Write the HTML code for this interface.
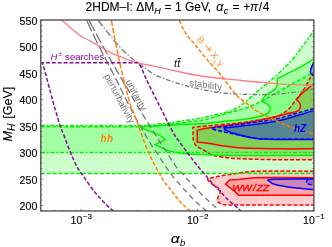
<!DOCTYPE html>
<html><head><meta charset="utf-8"><title>2HDM-I</title>
<style>html,body{margin:0;padding:0;background:#fff;}body{width:332px;height:247px;position:relative;overflow:hidden;font-family:"Liberation Sans",sans-serif;}</style>
</head><body>
<svg width="332" height="247" viewBox="0 0 332 247" style="position:absolute;left:0;top:0;will-change:transform;opacity:0.999">
<defs><clipPath id="c"><rect x="40.8" y="20.0" width="273.09999999999997" height="190.95"/></clipPath></defs>
<g clip-path="url(#c)" fill="none" stroke-width="1.5">
<!-- red fills -->
<path d="M313.90,72.00 C313.47,72.63 312.95,72.93 311.30,75.80 C309.65,78.67 306.55,85.22 304.00,89.20 C301.45,93.18 298.63,96.32 296.00,99.70 C293.37,103.08 291.53,106.67 288.20,109.50 C284.87,112.33 281.67,114.82 276.00,116.70 C270.33,118.58 260.87,119.72 254.20,120.80 C247.53,121.88 240.70,122.63 236.00,123.20 C231.30,123.77 231.00,123.73 226.00,124.20 C221.00,124.67 211.00,125.55 206.00,126.00 C201.00,126.45 198.18,126.67 196.00,126.90 C193.82,127.13 193.42,127.32 192.90,127.40 L193.2,140 C193.67,140.95 194.32,144.03 196.00,145.70 C197.68,147.37 200.67,148.48 203.30,150.00 C205.93,151.52 208.97,153.68 211.80,154.80 C214.63,155.92 216.27,156.08 220.30,156.70 C224.33,157.32 226.72,158.00 236.00,158.50 C245.28,159.00 263.02,159.50 276.00,159.70 C288.98,159.90 307.58,159.70 313.90,159.70 Z" fill="#ff0000" fill-opacity="0.2"/>
<path d="M313.90,83.50 C312.65,84.55 308.80,87.72 306.40,89.80 C304.00,91.88 301.15,94.37 299.50,96.00 C297.85,97.63 297.00,99.00 296.50,99.60 C297.02,100.17 298.95,101.85 299.60,103.00 C300.25,104.15 300.57,105.27 300.40,106.50 C300.23,107.73 299.67,109.45 298.60,110.40 C297.53,111.35 295.73,111.72 294.00,112.20 C292.27,112.68 291.20,112.57 288.20,113.30 C285.20,114.03 281.67,115.25 276.00,116.60 C270.33,117.95 260.87,120.13 254.20,121.40 C247.53,122.67 240.70,123.52 236.00,124.20 C231.30,124.88 231.00,124.82 226.00,125.50 C221.00,126.18 210.80,127.52 206.00,128.30 C201.20,129.08 198.67,129.88 197.20,130.20 L197.2,142.1 C198.67,142.25 199.53,142.10 206.00,143.00 C212.47,143.90 224.33,146.53 236.00,147.50 C247.67,148.47 263.02,148.58 276.00,148.80 C288.98,149.02 307.58,148.80 313.90,148.80 Z" fill="#ff0000" fill-opacity="0.2"/>
<path d="M313.90,171.20 C307.58,171.17 285.95,170.98 276.00,171.00 C266.05,171.02 260.20,171.00 254.20,171.30 C248.20,171.60 243.97,172.28 240.00,172.80 C236.03,173.32 234.03,173.82 230.40,174.40 C226.77,174.98 221.95,175.55 218.20,176.30 C214.45,177.05 209.62,178.47 207.90,178.90 L207.9,180.2 C208.62,180.87 210.27,182.73 212.20,184.20 C214.13,185.67 218.20,187.58 219.50,189.00 C220.80,190.42 220.22,191.48 220.00,192.70 C219.78,193.92 218.60,194.88 218.20,196.30 C217.80,197.72 217.25,200.00 217.60,201.20 C217.95,202.40 219.03,202.90 220.30,203.50 C221.57,204.10 222.58,204.53 225.20,204.80 C227.82,205.07 221.22,205.05 236.00,205.10 C250.78,205.15 300.92,205.10 313.90,205.10 Z" fill="#ff0000" fill-opacity="0.2"/>
<path d="M313.90,177.8 L276,177.4 L254,177.8 L240,179.2 L229.6,179.9 L225.5,184.2 L231.6,189 L236,192.6 L238.6,195.2 L313.90,195.2 Z" fill="#ff0000" fill-opacity="0.2"/>
<!-- green fills -->
<path d="M40.80,126.60 C58.33,126.60 126.13,126.80 146.00,126.60 C165.87,126.40 155.67,125.82 160.00,125.40 C164.33,124.98 167.00,124.72 172.00,124.10 C177.00,123.48 185.67,122.27 190.00,121.70 C194.33,121.13 195.33,121.08 198.00,120.70 C200.67,120.32 202.63,120.20 206.00,119.40 C209.37,118.60 214.15,117.10 218.20,115.90 C222.25,114.70 225.67,113.52 230.30,112.20 C234.93,110.88 241.00,109.70 246.00,108.00 C251.00,106.30 255.97,104.13 260.30,102.00 C264.63,99.87 268.17,97.37 272.00,95.20 C275.83,93.03 279.13,91.32 283.30,89.00 C287.47,86.68 291.90,84.07 297.00,81.30 C302.10,78.53 311.08,73.88 313.90,72.40 L313.90,173.60 L40.80,173.60 Z" fill="#00ff00" fill-opacity="0.2"/>
<path d="M40.80,125.50 C57.00,125.50 118.80,125.72 138.00,125.50 C157.20,125.28 150.73,124.65 156.00,124.20 C161.27,123.75 164.93,123.38 169.60,122.80 C174.27,122.22 179.60,121.33 184.00,120.70 C188.40,120.07 192.33,119.62 196.00,119.00 C199.67,118.38 202.30,117.83 206.00,117.00 C209.70,116.17 214.15,115.00 218.20,114.00 C222.25,113.00 226.87,112.20 230.30,111.00 C233.73,109.80 236.18,108.42 238.80,106.80 C241.42,105.18 242.62,104.10 246.00,101.30 C249.38,98.50 254.10,94.25 259.10,90.00 C264.10,85.75 270.55,80.80 276.00,75.80 C281.45,70.80 287.30,65.05 291.80,60.00 C296.30,54.95 299.32,50.33 303.00,45.50 C306.68,40.67 312.08,33.42 313.90,31.00 L313.90,152.50 L40.80,152.50 Z" fill="#00ff00" fill-opacity="0.2"/>
<path d="M140.50,126.80 C141.42,126.72 143.42,126.48 146.00,126.30 C148.58,126.12 152.67,125.88 156.00,125.70 C159.33,125.52 159.33,125.48 166.00,125.20 C172.67,124.92 189.33,124.30 196.00,124.00 C202.67,123.70 201.30,123.85 206.00,123.40 C210.70,122.95 219.20,121.82 224.20,121.30 C229.20,120.78 232.37,120.68 236.00,120.30 C239.63,119.92 242.97,119.43 246.00,119.00 C249.03,118.57 251.53,118.25 254.20,117.70 C256.87,117.15 259.90,116.38 262.00,115.70 C264.10,115.02 265.50,114.38 266.80,113.60 C268.10,112.82 269.20,111.90 269.80,111.00 C270.40,110.10 270.65,109.20 270.40,108.20 C270.15,107.20 269.28,105.95 268.30,105.00 C267.32,104.05 265.62,103.15 264.50,102.50 C263.38,101.85 262.08,101.33 261.60,101.10 C262.00,100.48 263.10,98.53 264.00,97.40 C264.90,96.27 265.83,95.23 267.00,94.30 C268.17,93.37 269.75,92.58 271.00,91.80 C272.25,91.02 273.57,90.43 274.50,89.60 C275.43,88.77 276.15,87.65 276.60,86.80 C277.05,85.95 277.10,84.88 277.20,84.50 L277.20,84.00 L277.20,78.60 C278.72,77.85 283.37,75.57 286.30,74.10 C289.23,72.63 291.82,71.35 294.80,69.80 C297.78,68.25 301.67,66.20 304.20,64.80 C306.73,63.40 308.38,62.43 310.00,61.40 C311.62,60.37 313.25,59.07 313.90,58.60 L313.90,155.30 C300.92,155.33 255.65,155.67 236.00,155.50 C216.35,155.33 205.33,154.68 196.00,154.30 C186.67,153.92 184.67,153.82 180.00,153.20 C175.33,152.58 170.00,151.03 168.00,150.60 L154.9,144.7 L165.4,139.5  C164.50,138.87 162.40,136.98 160.00,135.70 C157.60,134.42 153.50,132.85 151.00,131.80 C148.50,130.75 146.75,130.23 145.00,129.40 C143.25,128.57 141.25,127.23 140.50,126.80 Z" fill="#00ff00" fill-opacity="0.2"/>
<!-- blue fills -->
<path d="M313.90,108.40 C312.25,108.87 307.28,110.27 304.00,111.20 C300.72,112.13 298.87,112.70 294.20,114.00 C289.53,115.30 284.03,117.42 276.00,119.00 C267.97,120.58 252.67,122.52 246.00,123.50 C239.33,124.48 241.75,124.15 236.00,124.90 C230.25,125.65 215.58,127.48 211.50,128.00 L211.5,128.6 C212.62,128.97 215.07,130.03 218.20,130.80 C221.33,131.57 225.67,132.20 230.30,133.20 C234.93,134.20 242.05,135.97 246.00,136.80 C249.95,137.63 251.33,137.83 254.00,138.20 C256.67,138.57 258.33,138.83 262.00,139.00 C265.67,139.17 267.35,139.17 276.00,139.20 C284.65,139.23 307.58,139.20 313.90,139.20 Z" fill="#0000ff" fill-opacity="0.2"/>
<path d="M313.90,110.40 C312.25,110.93 307.28,112.58 304.00,113.60 C300.72,114.62 298.87,115.22 294.20,116.50 C289.53,117.78 284.03,119.78 276.00,121.30 C267.97,122.82 252.67,124.68 246.00,125.60 C239.33,126.52 239.60,126.40 236.00,126.80 C232.40,127.20 226.33,127.80 224.40,128.00 L224.8,129.8 C225.72,130.20 226.77,131.10 230.30,132.20 C233.83,133.30 242.05,135.43 246.00,136.40 C249.95,137.37 251.33,137.57 254.00,138.00 C256.67,138.43 258.33,138.75 262.00,139.00 C265.67,139.25 267.35,139.40 276.00,139.50 C284.65,139.60 307.58,139.58 313.90,139.60 Z" fill="#0000ff" fill-opacity="0.2"/>
<path d="M313.90,178.8 L276.9,179.3 L269,179.6 L268,180.3 C268.92,180.92 270.62,182.97 273.50,184.00 C276.38,185.03 280.52,185.73 285.30,186.50 C290.08,187.27 297.43,188.08 302.20,188.60 C306.97,189.12 311.95,189.43 313.90,189.60 Z" fill="#0000ff" fill-opacity="0.2"/>
<path d="M313.90,178.9 L307.8,179.1 L306.5,181.7 L307.4,183.9 L313.90,185.3 Z" fill="#0000ff" fill-opacity="0.2"/>
<!-- red lines -->
<path d="M313.90,72.00 C313.47,72.63 312.95,72.93 311.30,75.80 C309.65,78.67 306.55,85.22 304.00,89.20 C301.45,93.18 298.63,96.32 296.00,99.70 C293.37,103.08 291.53,106.67 288.20,109.50 C284.87,112.33 281.67,114.82 276.00,116.70 C270.33,118.58 260.87,119.72 254.20,120.80 C247.53,121.88 240.70,122.63 236.00,123.20 C231.30,123.77 231.00,123.73 226.00,124.20 C221.00,124.67 211.00,125.55 206.00,126.00 C201.00,126.45 198.18,126.67 196.00,126.90 C193.82,127.13 193.42,127.32 192.90,127.40 L193.2,140 C193.67,140.95 194.32,144.03 196.00,145.70 C197.68,147.37 200.67,148.48 203.30,150.00 C205.93,151.52 208.97,153.68 211.80,154.80 C214.63,155.92 216.27,156.08 220.30,156.70 C224.33,157.32 226.72,158.00 236.00,158.50 C245.28,159.00 263.02,159.50 276.00,159.70 C288.98,159.90 307.58,159.70 313.90,159.70" stroke="#ff0000" stroke-dasharray="4 1.9"/>
<path d="M313.90,83.50 C312.65,84.55 308.80,87.72 306.40,89.80 C304.00,91.88 301.15,94.37 299.50,96.00 C297.85,97.63 297.00,99.00 296.50,99.60 C297.02,100.17 298.95,101.85 299.60,103.00 C300.25,104.15 300.57,105.27 300.40,106.50 C300.23,107.73 299.67,109.45 298.60,110.40 C297.53,111.35 295.73,111.72 294.00,112.20 C292.27,112.68 291.20,112.57 288.20,113.30 C285.20,114.03 281.67,115.25 276.00,116.60 C270.33,117.95 260.87,120.13 254.20,121.40 C247.53,122.67 240.70,123.52 236.00,124.20 C231.30,124.88 231.00,124.82 226.00,125.50 C221.00,126.18 210.80,127.52 206.00,128.30 C201.20,129.08 198.67,129.88 197.20,130.20 L197.2,142.1 C198.67,142.25 199.53,142.10 206.00,143.00 C212.47,143.90 224.33,146.53 236.00,147.50 C247.67,148.47 263.02,148.58 276.00,148.80 C288.98,149.02 307.58,148.80 313.90,148.80" stroke="#ff0000"/>
<path d="M313.90,171.20 C307.58,171.17 285.95,170.98 276.00,171.00 C266.05,171.02 260.20,171.00 254.20,171.30 C248.20,171.60 243.97,172.28 240.00,172.80 C236.03,173.32 234.03,173.82 230.40,174.40 C226.77,174.98 221.95,175.55 218.20,176.30 C214.45,177.05 209.62,178.47 207.90,178.90 L207.9,180.2 C208.62,180.87 210.27,182.73 212.20,184.20 C214.13,185.67 218.20,187.58 219.50,189.00 C220.80,190.42 220.22,191.48 220.00,192.70 C219.78,193.92 218.60,194.88 218.20,196.30 C217.80,197.72 217.25,200.00 217.60,201.20 C217.95,202.40 219.03,202.90 220.30,203.50 C221.57,204.10 222.58,204.53 225.20,204.80 C227.82,205.07 221.22,205.05 236.00,205.10 C250.78,205.15 300.92,205.10 313.90,205.10" stroke="#ff0000" stroke-dasharray="4 1.9"/>
<path d="M313.90,177.8 L276,177.4 L254,177.8 L240,179.2 L229.6,179.9 L225.5,184.2 L231.6,189 L236,192.6 L238.6,195.2 L313.90,195.2" stroke="#ff0000"/>
<!-- green lines -->
<path d="M40.80,126.60 C58.33,126.60 126.13,126.80 146.00,126.60 C165.87,126.40 155.67,125.82 160.00,125.40 C164.33,124.98 167.00,124.72 172.00,124.10 C177.00,123.48 185.67,122.27 190.00,121.70 C194.33,121.13 195.33,121.08 198.00,120.70 C200.67,120.32 202.63,120.20 206.00,119.40 C209.37,118.60 214.15,117.10 218.20,115.90 C222.25,114.70 225.67,113.52 230.30,112.20 C234.93,110.88 241.00,109.70 246.00,108.00 C251.00,106.30 255.97,104.13 260.30,102.00 C264.63,99.87 268.17,97.37 272.00,95.20 C275.83,93.03 279.13,91.32 283.30,89.00 C287.47,86.68 291.90,84.07 297.00,81.30 C302.10,78.53 311.08,73.88 313.90,72.40" stroke="#00f000" stroke-dasharray="4 1.9"/>
<path d="M40.8,173.60 H313.9" stroke="#00f000" stroke-dasharray="4 1.9"/>
<path d="M40.80,125.50 C57.00,125.50 118.80,125.72 138.00,125.50 C157.20,125.28 150.73,124.65 156.00,124.20 C161.27,123.75 164.93,123.38 169.60,122.80 C174.27,122.22 179.60,121.33 184.00,120.70 C188.40,120.07 192.33,119.62 196.00,119.00 C199.67,118.38 202.30,117.83 206.00,117.00 C209.70,116.17 214.15,115.00 218.20,114.00 C222.25,113.00 226.87,112.20 230.30,111.00 C233.73,109.80 236.18,108.42 238.80,106.80 C241.42,105.18 242.62,104.10 246.00,101.30 C249.38,98.50 254.10,94.25 259.10,90.00 C264.10,85.75 270.55,80.80 276.00,75.80 C281.45,70.80 287.30,65.05 291.80,60.00 C296.30,54.95 299.32,50.33 303.00,45.50 C306.68,40.67 312.08,33.42 313.90,31.00" stroke="#00f000" stroke-dasharray="4.1 1.8 1.9 1.9"/>
<path d="M40.8,152.50 H313.9" stroke="#00f000" stroke-dasharray="4.1 1.8 1.9 1.9"/>
<path d="M140.50,126.80 C141.42,126.72 143.42,126.48 146.00,126.30 C148.58,126.12 152.67,125.88 156.00,125.70 C159.33,125.52 159.33,125.48 166.00,125.20 C172.67,124.92 189.33,124.30 196.00,124.00 C202.67,123.70 201.30,123.85 206.00,123.40 C210.70,122.95 219.20,121.82 224.20,121.30 C229.20,120.78 232.37,120.68 236.00,120.30 C239.63,119.92 242.97,119.43 246.00,119.00 C249.03,118.57 251.53,118.25 254.20,117.70 C256.87,117.15 259.90,116.38 262.00,115.70 C264.10,115.02 265.50,114.38 266.80,113.60 C268.10,112.82 269.20,111.90 269.80,111.00 C270.40,110.10 270.65,109.20 270.40,108.20 C270.15,107.20 269.28,105.95 268.30,105.00 C267.32,104.05 265.62,103.15 264.50,102.50 C263.38,101.85 262.08,101.33 261.60,101.10 C262.00,100.48 263.10,98.53 264.00,97.40 C264.90,96.27 265.83,95.23 267.00,94.30 C268.17,93.37 269.75,92.58 271.00,91.80 C272.25,91.02 273.57,90.43 274.50,89.60 C275.43,88.77 276.15,87.65 276.60,86.80 C277.05,85.95 277.10,84.88 277.20,84.50 L277.20,84.00 L277.20,78.60 C278.72,77.85 283.37,75.57 286.30,74.10 C289.23,72.63 291.82,71.35 294.80,69.80 C297.78,68.25 301.67,66.20 304.20,64.80 C306.73,63.40 308.38,62.43 310.00,61.40 C311.62,60.37 313.25,59.07 313.90,58.60" stroke="#00f000"/>
<path d="M313.90,155.30 C300.92,155.33 255.65,155.67 236.00,155.50 C216.35,155.33 205.33,154.68 196.00,154.30 C186.67,153.92 184.67,153.82 180.00,153.20 C175.33,152.58 170.00,151.03 168.00,150.60 L154.9,144.7 L165.4,139.5  C164.50,138.87 162.40,136.98 160.00,135.70 C157.60,134.42 153.50,132.85 151.00,131.80 C148.50,130.75 146.75,130.23 145.00,129.40 C143.25,128.57 141.25,127.23 140.50,126.80" stroke="#00f000"/>
<!-- blue lines -->
<path d="M313.90,108.40 C312.25,108.87 307.28,110.27 304.00,111.20 C300.72,112.13 298.87,112.70 294.20,114.00 C289.53,115.30 284.03,117.42 276.00,119.00 C267.97,120.58 252.67,122.52 246.00,123.50 C239.33,124.48 241.75,124.15 236.00,124.90 C230.25,125.65 215.58,127.48 211.50,128.00 L211.5,128.6 C212.62,128.97 215.07,130.03 218.20,130.80 C221.33,131.57 225.67,132.20 230.30,133.20 C234.93,134.20 242.05,135.97 246.00,136.80 C249.95,137.63 251.33,137.83 254.00,138.20 C256.67,138.57 258.33,138.83 262.00,139.00 C265.67,139.17 267.35,139.17 276.00,139.20 C284.65,139.23 307.58,139.20 313.90,139.20" stroke="#0000ff" stroke-dasharray="4 1.9"/>
<path d="M313.90,110.40 C312.25,110.93 307.28,112.58 304.00,113.60 C300.72,114.62 298.87,115.22 294.20,116.50 C289.53,117.78 284.03,119.78 276.00,121.30 C267.97,122.82 252.67,124.68 246.00,125.60 C239.33,126.52 239.60,126.40 236.00,126.80 C232.40,127.20 226.33,127.80 224.40,128.00 L224.8,129.8 C225.72,130.20 226.77,131.10 230.30,132.20 C233.83,133.30 242.05,135.43 246.00,136.40 C249.95,137.37 251.33,137.57 254.00,138.00 C256.67,138.43 258.33,138.75 262.00,139.00 C265.67,139.25 267.35,139.40 276.00,139.50 C284.65,139.60 307.58,139.58 313.90,139.60" stroke="#0000ff"/>
<path d="M313.90,178.8 L276.9,179.3 L269,179.6 L268,180.3 C268.92,180.92 270.62,182.97 273.50,184.00 C276.38,185.03 280.52,185.73 285.30,186.50 C290.08,187.27 297.43,188.08 302.20,188.60 C306.97,189.12 311.95,189.43 313.90,189.60" stroke="#0000ff"/>
<path d="M313.90,178.9 L307.8,179.1 L306.5,181.7 L307.4,183.9 L313.90,185.3" stroke="#0000ff" stroke-dasharray="4 1.9"/>
<path d="M313.9,62.5 Q311.2,66 310.3,72.3 L312.6,75.2 L313.9,75.4" stroke="#0000ff" fill="#0000ff" fill-opacity="0.3"/>
<!-- other curves -->
<path d="M86.70,20.50 L87.36,21.91 L88.19,23.68 L89.16,25.76 L90.25,28.11 L91.44,30.66 L91.76,31.34 M92.96,33.87 L94.05,36.17 L95.42,39.03 L96.81,41.89 L97.61,43.51 M98.89,46.07 L99.62,47.52 L101.11,50.43 L102.66,53.43 L103.38,54.82 M104.72,57.39 L105.89,59.62 L107.56,62.81 L108.91,65.38 M110.27,67.99 L110.94,69.27 L112.62,72.53 L114.12,75.44 M115.46,78.10 L115.98,79.11 L117.68,82.51 L118.99,85.15 M120.33,87.87 L121.12,89.47 L122.86,92.98 L123.70,94.66 M125.09,97.45 L126.34,99.97 L128.07,103.39 L128.37,103.96 M129.83,106.81 L131.50,110.00 L133.10,113.00 M134.66,115.88 L134.99,116.49 L136.77,119.75 L137.95,121.88 M139.57,124.79 L140.33,126.14 L142.06,129.20 L142.81,130.53 M144.51,133.49 L145.32,134.90 L146.82,137.46 L147.72,139.00 M149.52,141.98 L150.62,143.73 L151.70,145.38 L152.70,146.87 L152.88,147.13 M154.92,150.04 L155.37,150.67 L156.19,151.83 L157.00,153.00 L157.80,154.20 L158.30,154.98 M160.22,158.04 L160.52,158.53 L161.11,159.49 L161.69,160.45 L162.29,161.41 L162.91,162.39 L163.33,163.04 M165.37,166.06 L165.92,166.86 L166.79,168.11 L167.69,169.38 L168.60,170.66 L168.69,170.79 M170.86,173.77 L171.31,174.38 L172.18,175.53 L173.00,176.60 L173.78,177.59 L174.34,178.28 M176.74,181.11 L177.36,181.81 L178.07,182.60 L178.79,183.40 L179.53,184.23 L180.30,185.10 L180.47,185.29 M182.96,188.09 L183.65,188.86 L184.53,189.83 L185.40,190.80 L186.27,191.75 L186.66,192.18 M189.22,194.95 L189.59,195.36 L190.35,196.18 L191.10,196.99 L191.83,197.79 L192.56,198.57 L192.91,198.94 M195.59,201.65 L195.64,201.69 L196.50,202.50 L197.45,203.36 L198.51,204.27 L199.61,205.20 M202.58,207.63 L203.11,208.06 L204.16,208.91 L205.10,209.67 L205.89,210.30 L206.50,210.80" stroke="#767676" stroke-width="1.3"/>
<path d="M89.10,20.50 L89.92,22.04 L90.96,24.00 L92.19,26.31 L93.56,28.91 L94.71,31.06 M96.02,33.54 L96.63,34.68 L98.26,37.72 L99.90,40.76 L101.16,43.07 M102.53,45.57 L103.10,46.60 L104.64,49.37 L106.21,52.16 L107.36,54.20 M108.79,56.72 L109.42,57.82 L111.06,60.69 L112.74,63.61 L113.34,64.66 M114.81,67.20 L116.19,69.59 L117.98,72.66 L119.00,74.43 M120.50,77.01 L121.73,79.12 L123.82,82.67 L124.49,83.81 M126.02,86.42 L128.23,90.18 L129.87,92.94 M131.45,95.63 L132.66,97.66 L134.76,101.20 L135.20,101.95 M136.83,104.69 L138.47,107.45 L140.00,110.00 L140.46,110.76 M142.14,113.55 L142.30,113.81 L143.16,115.21 L143.88,116.36 L144.50,117.34 L145.06,118.22 L145.61,119.07 L145.82,119.39 M147.59,122.19 L147.60,122.20 L148.40,123.48 L149.15,124.70 L149.89,125.89 L150.62,127.09 L151.11,127.88 M152.90,130.75 L153.13,131.12 L154.14,132.74 L155.29,134.55 L156.36,136.22 M158.21,139.13 L159.91,141.81 L161.54,144.37 M163.43,147.35 L163.95,148.16 L166.08,151.50 L166.69,152.45 M168.63,155.46 L170.28,158.01 L171.85,160.40 M173.87,163.43 L173.99,163.61 L175.50,165.80 L176.76,167.54 L177.25,168.18 M179.59,170.99 L180.18,171.60 L180.85,172.24 L181.52,172.87 L182.24,173.56 L183.06,174.38 L183.65,175.03 M186.13,177.78 L186.17,177.83 L187.34,179.13 L188.54,180.48 L189.77,181.85 L189.90,181.99 M192.40,184.75 L193.53,185.98 L194.78,187.31 L196.00,188.60 L196.20,188.80 M198.83,191.50 L199.67,192.35 L200.90,193.58 L202.13,194.80 L202.70,195.36 M205.43,198.00 L205.80,198.35 L207.01,199.49 L208.20,200.60 L209.38,201.68 M212.24,204.22 L213.40,205.22 L214.71,206.35 L215.96,207.42 L216.28,207.68 M219.21,210.18 L219.70,210.60" stroke="#767676" stroke-width="1.3"/>
<path d="M98.20,20.50 L99.39,21.99 L100.97,23.99 L102.60,26.06 M103.84,27.63 L104.65,28.65 M105.89,30.22 L107.18,31.85 L109.48,34.74 L110.28,35.73 M111.54,37.29 L111.76,37.57 L112.36,38.30 M113.62,39.85 L113.95,40.25 L115.95,42.67 L117.70,44.70 L118.08,45.12 M119.41,46.61 L120.29,47.56 M121.67,49.01 L121.96,49.31 L123.20,50.56 L124.38,51.69 L125.52,52.75 L126.23,53.39 M127.72,54.72 L127.74,54.73 L128.70,55.57 M130.21,56.88 L131.15,57.68 L132.26,58.58 L133.34,59.44 L134.41,60.25 L134.67,60.44 M136.29,61.62 L136.54,61.80 L137.35,62.38 M138.97,63.54 L139.84,64.15 L141.00,65.00 L142.20,65.89 L143.36,66.77 M144.94,67.99 L145.95,68.76 L145.98,68.78 M147.57,69.98 L148.53,70.69 L149.83,71.62 L151.13,72.50 L152.01,73.08 M153.72,74.11 L154.87,74.73 M156.66,75.62 L157.59,76.05 L158.90,76.61 L160.21,77.14 L161.11,77.49 M162.99,78.19 L164.06,78.59 L164.21,78.64 M166.08,79.34 L166.50,79.50 L167.66,79.94 L168.77,80.35 L169.86,80.74 L170.48,80.96 M172.38,81.60 L173.01,81.81 L173.61,82.00 M175.52,82.61 L176.25,82.84 L177.40,83.20 L178.58,83.57 L179.77,83.93 L179.92,83.98 M181.84,84.56 L182.20,84.67 L183.09,84.93 M185.01,85.48 L185.99,85.75 L187.30,86.11 L188.64,86.46 L189.41,86.65 M191.36,87.13 L191.41,87.14 L192.62,87.42 M194.58,87.85 L195.87,88.13 L197.40,88.46 L198.94,88.78 L198.98,88.78 M200.94,89.18 L202.01,89.40 L202.21,89.44 M204.18,89.83 L205.00,90.00 L206.42,90.30 L207.79,90.59 L208.57,90.77 M210.52,91.20 L211.74,91.46 L211.80,91.47 M213.76,91.86 L214.48,91.99 L215.95,92.24 L217.52,92.48 L218.17,92.57 M220.15,92.81 L220.99,92.90 L221.44,92.95 M223.43,93.15 L224.79,93.27 L226.80,93.44 L227.84,93.52 M229.83,93.66 L230.99,93.74 L231.13,93.75 M233.12,93.87 L233.17,93.87 L235.40,93.99 L237.53,94.09 M239.52,94.18 L240.00,94.20 L240.82,94.23 M242.82,94.30 L245.12,94.36 L247.22,94.41 M249.22,94.45 L250.52,94.47 M252.52,94.50 L253.68,94.52 L256.50,94.55 L256.92,94.55 M258.92,94.57 L259.21,94.57 L260.22,94.58 M262.22,94.59 L264.02,94.60 L266.00,94.60 L266.62,94.60 M268.62,94.61 L268.80,94.61 L269.73,94.61 L269.92,94.61 M271.92,94.54 L272.45,94.51 L273.34,94.43 L274.49,94.33 L276.00,94.20 L276.31,94.17 M278.31,93.99 L279.60,93.87 M281.59,93.68 L282.59,93.59 L285.23,93.33 L285.99,93.25 M287.98,93.05 L289.27,92.91 M291.26,92.70 L293.39,92.46 L295.66,92.20 M297.65,91.95 L298.26,91.88 L298.94,91.79 M300.92,91.50 L302.12,91.32 L303.83,91.01 L305.31,90.71 M307.26,90.28 L308.32,90.04 L308.52,89.99 M310.47,89.50 L310.71,89.44 L311.71,89.18 L312.58,88.97 L313.30,88.80" stroke="#767676" stroke-width="1.3"/>
<path d="M111.40,20.50 L111.69,22.04 L112.04,24.00 L112.39,25.87 M112.74,27.84 L112.94,28.91 L113.46,31.72 L113.73,33.20 M114.10,35.16 L114.57,37.70 L115.10,40.44 M115.48,42.40 L115.73,43.68 L116.30,46.50 L116.52,47.58 M116.93,49.54 L117.46,52.06 L118.00,54.59 M118.42,56.54 L118.69,57.79 L119.32,60.69 L119.51,61.53 M119.94,63.48 L119.96,63.59 L120.61,66.48 L121.05,68.40 M121.50,70.35 L121.94,72.20 L122.60,75.00 L122.64,75.17 M123.11,77.11 L123.29,77.85 L124.02,80.80 L124.28,81.86 M124.77,83.80 L124.77,83.81 L125.54,86.82 L125.97,88.48 M126.47,90.42 L127.05,92.64 L127.69,95.02 M128.21,96.96 L128.44,97.84 L129.06,100.08 L129.46,101.50 M130.02,103.42 L130.05,103.53 L130.41,104.69 L130.70,105.55 L130.95,106.19 L131.17,106.70 L131.38,107.15 L131.61,107.63 L131.64,107.68 M132.42,109.53 L132.60,110.00 L133.08,111.28 L133.62,112.72 L133.91,113.50 M134.62,115.37 L134.83,115.93 L135.47,117.64 L136.12,119.36 L136.13,119.39 M136.82,121.26 L137.38,122.75 L137.96,124.33 L138.32,125.30 M139.00,127.18 L139.44,128.44 L139.87,129.67 L140.28,130.86 L140.43,131.30 M141.08,133.19 L141.48,134.34 L141.90,135.52 L142.33,136.73 L142.54,137.30 M143.24,139.17 L143.29,139.31 L143.78,140.64 L144.28,141.99 L144.73,143.21 M145.44,145.08 L145.85,146.14 L146.41,147.54 L146.98,148.96 L147.01,149.02 M147.79,150.86 L148.20,151.80 L148.85,153.24 L149.49,154.61 M150.35,156.42 L150.96,157.66 L151.70,159.16 L152.14,160.03 M153.05,161.81 L153.21,162.14 L153.98,163.61 L154.74,165.07 L154.89,165.34 M155.82,167.11 L156.26,167.92 L157.02,169.35 L157.69,170.60 M158.65,172.36 L159.33,173.58 L160.11,174.96 L160.57,175.77 M161.59,177.49 L161.69,177.65 L162.49,178.94 L163.30,180.20 L163.67,180.74 M164.81,182.38 L164.96,182.58 L165.80,183.71 L166.65,184.81 L167.11,185.40 M168.37,186.96 L169.23,188.01 L170.09,189.07 L170.77,189.91 M172.01,191.47 L172.64,192.28 L173.48,193.37 L174.31,194.46 L174.33,194.48 M175.55,196.07 L175.97,196.62 L176.81,197.69 L177.66,198.75 L177.91,199.05 M179.20,200.57 L179.40,200.81 L180.30,201.80 L181.27,202.81 L181.80,203.34 M183.24,204.73 L183.43,204.90 L184.56,205.95 L185.68,206.96 L186.05,207.29 M187.54,208.62 L187.77,208.81 L188.66,209.60 L189.42,210.27 L190.00,210.80" stroke="#ff8000" stroke-width="1.5"/>
<path d="M179.30,20.50 C180.42,22.70 183.20,29.45 186.00,33.70 C188.80,37.95 192.53,41.62 196.10,46.00 C199.67,50.38 203.37,55.27 207.40,60.00 C211.43,64.73 215.53,68.63 220.30,74.40 C225.07,80.17 231.35,89.57 236.00,94.60 C240.65,99.63 244.15,101.52 248.20,104.60 C252.25,107.68 255.67,110.42 260.30,113.10 C264.93,115.78 270.35,118.18 276.00,120.70 C281.65,123.22 287.98,126.00 294.20,128.20 C300.42,130.40 310.12,132.95 313.30,133.90" stroke="#ff8000" stroke-dasharray="4 1.9" stroke-width="1.5"/>
<path d="M61.30,19.80 C62.88,21.15 67.93,25.47 70.80,27.90 C73.67,30.33 76.72,32.95 78.50,34.40 C80.28,35.85 79.58,35.52 81.50,36.60 C83.42,37.68 87.03,39.30 90.00,40.90 C92.97,42.50 95.85,44.23 99.30,46.20 C102.75,48.17 107.25,51.00 110.70,52.70 C114.15,54.40 116.78,55.13 120.00,56.40 C123.22,57.67 126.62,59.13 130.00,60.30 C133.38,61.47 137.27,62.62 140.30,63.40 C143.33,64.18 143.83,64.10 148.20,65.00 C152.57,65.90 161.20,67.65 166.50,68.80 C171.80,69.95 174.72,70.78 180.00,71.90 C185.28,73.02 192.12,74.48 198.20,75.50 C204.28,76.52 210.20,77.27 216.50,78.00 C222.80,78.73 229.42,79.23 236.00,79.90 C242.58,80.57 249.33,81.40 256.00,82.00 C262.67,82.60 269.50,83.05 276.00,83.50 C282.50,83.95 288.67,84.38 295.00,84.70 C301.33,85.02 310.83,85.28 314.00,85.40" stroke="#ff7c84" stroke-width="1.3"/>
<path d="M113.50,211.00 C112.35,210.00 109.78,208.23 106.60,205.00 C103.42,201.77 98.47,196.67 94.40,191.60 C90.33,186.53 84.93,178.45 82.20,174.60 C79.47,170.75 79.42,170.93 78.00,168.50 C76.58,166.07 75.03,162.85 73.70,160.00 C72.37,157.15 71.62,155.47 70.00,151.40 C68.38,147.33 65.67,139.92 64.00,135.60 C62.33,131.28 61.33,129.43 60.00,125.50 C58.67,121.57 57.25,116.25 56.00,112.00 C54.75,107.75 54.32,106.67 52.50,100.00 C50.68,93.33 46.82,78.20 45.10,72.00 C43.38,65.80 42.68,64.33 42.20,62.80 L137.5,62.8  C138.08,63.47 139.88,64.87 141.00,66.80 C142.12,68.73 143.00,71.67 144.20,74.40 C145.40,77.13 146.18,79.02 148.20,83.20 C150.22,87.38 154.05,95.03 156.30,99.50 C158.55,103.97 159.60,105.82 161.70,110.00 C163.80,114.18 166.68,120.30 168.90,124.60 C171.12,128.90 173.50,133.27 175.00,135.80 C176.50,138.33 175.80,136.93 177.90,139.80 C180.00,142.67 184.58,148.97 187.60,153.00 C190.62,157.03 192.57,159.77 196.00,164.00 C199.43,168.23 205.17,174.82 208.20,178.40 C211.23,181.98 212.18,183.33 214.20,185.50 C216.22,187.67 218.27,189.28 220.30,191.40 C222.33,193.52 223.78,195.65 226.40,198.20 C229.02,200.75 233.58,204.57 236.00,206.70 C238.42,208.83 240.08,210.28 240.90,211.00" stroke="#8a0a9a" stroke-dasharray="4 1.9" stroke-width="1.5"/>
</g>
<path d="M46.4,20.0 V210.95" stroke="#00ff00" stroke-opacity="0.13" stroke-width="0.7"/>
<!-- frame & ticks -->
<path d="M40.80,210.80 h1.70 M313.90,210.80 h-1.70 M40.80,205.52 h2.60 M313.90,205.52 h-2.60 M40.80,200.23 h1.70 M313.90,200.23 h-1.70 M40.80,194.94 h1.70 M313.90,194.94 h-1.70 M40.80,189.65 h1.70 M313.90,189.65 h-1.70 M40.80,184.36 h1.70 M313.90,184.36 h-1.70 M40.80,179.07 h2.60 M313.90,179.07 h-2.60 M40.80,173.78 h1.70 M313.90,173.78 h-1.70 M40.80,168.49 h1.70 M313.90,168.49 h-1.70 M40.80,163.20 h1.70 M313.90,163.20 h-1.70 M40.80,157.91 h1.70 M313.90,157.91 h-1.70 M40.80,152.63 h2.60 M313.90,152.63 h-2.60 M40.80,147.34 h1.70 M313.90,147.34 h-1.70 M40.80,142.05 h1.70 M313.90,142.05 h-1.70 M40.80,136.76 h1.70 M313.90,136.76 h-1.70 M40.80,131.47 h1.70 M313.90,131.47 h-1.70 M40.80,126.18 h2.60 M313.90,126.18 h-2.60 M40.80,120.89 h1.70 M313.90,120.89 h-1.70 M40.80,115.60 h1.70 M313.90,115.60 h-1.70 M40.80,110.31 h1.70 M313.90,110.31 h-1.70 M40.80,105.02 h1.70 M313.90,105.02 h-1.70 M40.80,99.74 h2.60 M313.90,99.74 h-2.60 M40.80,94.45 h1.70 M313.90,94.45 h-1.70 M40.80,89.16 h1.70 M313.90,89.16 h-1.70 M40.80,83.87 h1.70 M313.90,83.87 h-1.70 M40.80,78.58 h1.70 M313.90,78.58 h-1.70 M40.80,73.29 h2.60 M313.90,73.29 h-2.60 M40.80,68.00 h1.70 M313.90,68.00 h-1.70 M40.80,62.71 h1.70 M313.90,62.71 h-1.70 M40.80,57.42 h1.70 M313.90,57.42 h-1.70 M40.80,52.13 h1.70 M313.90,52.13 h-1.70 M40.80,46.84 h2.60 M313.90,46.84 h-2.60 M40.80,41.56 h1.70 M313.90,41.56 h-1.70 M40.80,36.27 h1.70 M313.90,36.27 h-1.70 M40.80,30.98 h1.70 M313.90,30.98 h-1.70 M40.80,25.69 h1.70 M313.90,25.69 h-1.70 M40.80,20.40 h2.60 M313.90,20.40 h-2.60 M46.09,210.95 v-1.20 M55.30,210.95 v-1.20 M63.08,210.95 v-1.20 M69.83,210.95 v-1.20 M75.78,210.95 v-1.20 M81.10,210.95 v-2.20 M116.11,210.95 v-1.20 M136.59,210.95 v-1.20 M151.12,210.95 v-1.20 M162.39,210.95 v-1.20 M171.60,210.95 v-1.20 M179.38,210.95 v-1.20 M186.13,210.95 v-1.20 M192.08,210.95 v-1.20 M197.40,210.95 v-2.20 M232.41,210.95 v-1.20 M252.89,210.95 v-1.20 M267.42,210.95 v-1.20 M278.69,210.95 v-1.20 M287.90,210.95 v-1.20 M295.68,210.95 v-1.20 M302.43,210.95 v-1.20 M308.38,210.95 v-1.20 M313.70,210.95 v-2.20 " stroke="#707070" stroke-width="0.7" fill="none"/>
<rect x="40.8" y="20.0" width="273.09999999999997" height="190.95" fill="none" stroke="#484848" stroke-width="1.3"/>
<g font-family="Liberation Sans, sans-serif" opacity="0.999">
<!-- labels inside -->
<text x="50.5" y="59.8" font-size="9.6" fill="#8a0a9a"><tspan font-style="italic">H</tspan><tspan font-size="6.4" dy="-4.1" dx="1.1">±</tspan><tspan dy="4.1" x="65.1">searches</tspan></text>
<text x="173.9" y="66.8" font-size="11" fill="#111" font-style="italic" letter-spacing="0.35">tt</text>
<path d="M177.6,58.5 h3.6" stroke="#111" stroke-width="0.8"/>
<text transform="translate(189.3,85.8) skewY(8)" font-size="9.75" fill="#767676">stability</text>
<text transform="translate(104.1,76.0) rotate(62.3)" font-size="9.5" fill="#767676">perturbativity</text>
<text transform="translate(125.6,81.6) rotate(62.3)" font-size="9.6" fill="#767676">unitarity</text>
<g transform="translate(196.5,39.5) rotate(49.4)" fill="#ff8000" font-size="9.4" fill-opacity="0.88"><text x="0" y="0">B</text><path d="M10,-3.3 h7 M14.2,-5.7 l3,2.4 l-3,2.4" stroke="#ff8000" stroke-width="0.8" fill="none"/><text x="20.6" y="0">X<tspan font-size="6.2" dy="2.5" dx="0.4">s</tspan><tspan dy="-2.5" dx="1.1" font-size="9">γ</tspan></text></g>
<text x="100.4" y="141.6" font-size="10" fill="#ff8000" font-weight="bold" font-style="italic" letter-spacing="0.5">hh</text>
<text x="294" y="132" font-size="10" fill="#0000ff" font-weight="bold" font-style="italic">hZ</text>
<text transform="translate(232.2,190.7) scale(1.08,1)" font-size="9.7" fill="#ff0000" stroke="#ff0000" stroke-width="0.4" font-style="italic">WW<tspan dx="0.9">/</tspan><tspan dx="0.6">ZZ</tspan></text>
<!-- tick labels -->
<g font-size="10.6" fill="#000" text-anchor="end" stroke="#000" stroke-width="0.15">
<text x="37.3" y="209.97">200</text>
<text x="37.3" y="183.52">250</text>
<text x="37.3" y="157.08">300</text>
<text x="37.3" y="130.63">350</text>
<text x="37.3" y="104.19">400</text>
<text x="37.3" y="77.74">450</text>
<text x="37.3" y="51.30">500</text>
<text x="37.3" y="24.85">550</text>
</g>
<g font-size="10.5" fill="#000" stroke="#000" stroke-width="0.15">
<text x="70.6" y="224.2">10<tspan font-size="7.6" dy="-5.0" dx="0.6" letter-spacing="0.5">−3</tspan></text>
<text x="187.0" y="224.2">10<tspan font-size="7.6" dy="-5.0" dx="0.6" letter-spacing="0.5">−2</tspan></text>
<text x="303.1" y="224.2">10<tspan font-size="7.6" dy="-5.0" dx="0.6" letter-spacing="0.5">−1</tspan></text>
</g>
<!-- title -->
<text y="10.6" font-size="12" fill="#000" stroke="#000" stroke-width="0.12"><tspan x="85.6">2HDM–I: ΔM</tspan><tspan font-size="9" dy="2.9" font-style="italic">H</tspan><tspan dy="-2.9" x="164.6">= 1 GeV,</tspan><tspan x="216.2" font-style="italic" font-size="12.6">α</tspan><tspan x="223.8" font-size="9" dy="2.9" font-style="italic">c</tspan><tspan dy="-2.9" x="232.6">=</tspan><tspan x="243.2">+</tspan><tspan font-style="italic" dx="-0.3">π</tspan><tspan dx="0.9">/</tspan><tspan dx="0.5">4</tspan></text>
<!-- axis labels -->
<text transform="translate(12.4,141.4) rotate(-90)" font-size="12.6" fill="#000" stroke="#000" stroke-width="0.12"><tspan font-style="italic">M</tspan><tspan font-size="10.2" dy="2.6" font-style="italic">H</tspan><tspan dy="-2.6" dx="1.2"> [GeV]</tspan></text>
<text transform="translate(170.8,242.8) scale(1.2,1.03)" font-size="13" fill="#000" font-style="italic" stroke="#000" stroke-width="0.15">α</text><text x="179.9" y="245.6" font-size="9.6" fill="#000" font-style="italic">b</text>
</g>
</svg>
</body></html>
